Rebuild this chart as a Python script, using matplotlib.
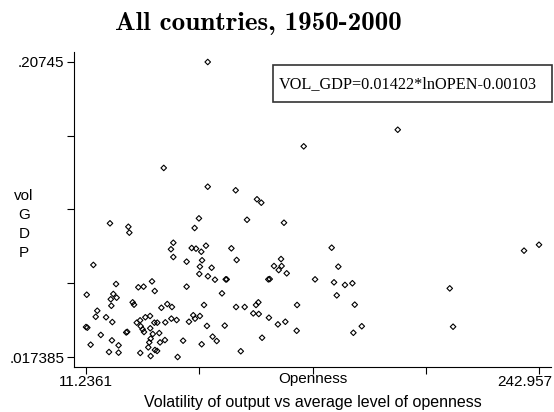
import matplotlib
matplotlib.use("Agg")
import matplotlib.pyplot as plt
from matplotlib.patches import Rectangle
from matplotlib.transforms import ScaledTranslation

# average openness per country (x) and volatility of GDP (y)
openness = [73.5, 122.6, 170.7, 51.0, 73.5, 87.8, 98.7, 100.9,
            23.5, 32.9, 33.4, 15.0, 11.6, 26.6, 25.2, 26.9, 23.9, 24.2,
            17.0, 16.2, 21.5, 24.7, 11.2361, 11.9, 18.8, 13.6, 24.5, 27.9,
            23.0, 27.9, 35.1, 35.8, 31.8, 32.3, 38.0, 40.7, 45.0, 46.4,
            38.9, 37.2, 39.2, 40.2, 40.9, 41.6, 44.0, 44.1, 46.2, 47.7,
            45.4, 44.3, 48.7, 43.6, 43.1, 46.5, 47.6, 44.3, 39.0, 49.1,
            51.6, 49.8, 52.8, 55.2, 51.8, 54.9, 57.6, 58.1, 60.9, 54.7,
            55.9, 55.9, 62.7, 62.7, 63.9, 66.1, 67.0, 69.5, 66.8, 69.0,
            65.3, 67.5, 70.2, 72.6, 70.6, 69.5, 69.2, 73.6, 75.5, 77.2,
            83.2, 82.7, 80.8, 71.6, 73.1, 70.4, 76.0, 78.1, 82.2, 85.6,
            88.3, 88.0, 92.4, 90.4, 93.6, 96.8, 98.2, 99.4, 99.6, 101.3,
            104.8, 105.2, 104.5, 107.4, 109.8, 111.3, 111.0, 113.9, 112.5,
            109.4, 113.2, 119.2, 119.0,
            136.9, 140.3, 128.4, 138.1, 143.7, 147.5, 139.5, 148.7, 152.3,
            148.0, 197.3, 199.0, 235.3, 242.957]
vol_gdp = [0.20745, 0.1531, 0.1638, 0.1392, 0.1271, 0.1248, 0.1190, 0.1168,
           0.1035, 0.1013, 0.0975, 0.0767, 0.0575, 0.0644, 0.0580, 0.0556, 0.0546, 0.0504,
           0.0472, 0.0433, 0.0430, 0.0399, 0.0367, 0.0363, 0.0316, 0.0253, 0.0281, 0.0249,
           0.0206, 0.0202, 0.0526, 0.0511, 0.0332, 0.0336, 0.0623, 0.0627, 0.0661, 0.0599,
           0.0410, 0.0395, 0.0372, 0.0352, 0.0335, 0.0430, 0.0438, 0.0359, 0.0395, 0.0395,
           0.0322, 0.0292, 0.0328, 0.0268, 0.0236, 0.0219, 0.0213, 0.0180, 0.0200, 0.0268,
           0.0283, 0.0491, 0.0515, 0.0496, 0.0397, 0.0421, 0.0412, 0.017385, 0.0279, 0.0868,
           0.0910, 0.0818, 0.0788, 0.0627, 0.0401, 0.0443, 0.0421, 0.0438, 0.1005, 0.1067,
           0.0876, 0.0872, 0.0852, 0.0891, 0.0797, 0.0756, 0.0709, 0.0694, 0.0749, 0.0672,
           0.0674, 0.0674, 0.0584, 0.0509, 0.0374, 0.0256, 0.0305, 0.0277, 0.0376, 0.0874,
           0.0799, 0.0496, 0.0496, 0.0211, 0.1058, 0.0455, 0.0509, 0.0526, 0.0451, 0.0298,
           0.0427, 0.0676, 0.0674, 0.0760, 0.0734, 0.0760, 0.0805, 0.0713, 0.1039,
           0.0384, 0.0401, 0.0509, 0.0343,
           0.0878, 0.0756, 0.0674, 0.0655, 0.0638, 0.0649, 0.0571, 0.0511, 0.0372,
           0.0330, 0.0616, 0.0369, 0.0859, 0.0897]

x_ticks = [11.2361, 69.1664, 127.0966, 185.0268, 242.957]
x_labels = ["11.2361", "", "", "", "242.957"]
y_ticks = [0.017385, 0.0649, 0.112417, 0.159933, 0.20745]
y_labels = [".017385", "", "", "", ".20745"]

equation = "VOL_GDP=0.01422*lnOPEN-0.00103"

fig = plt.figure(figsize=(5.54, 4.12), dpi=100)
ax = fig.add_axes([0.1336, 0.1092, 0.861, 0.7646])

ax.scatter(openness, vol_gdp, marker="D", s=8, facecolors="none",
           edgecolors="black", linewidths=0.8)

ax.set_xlim(5.1, 249.1)
ax.set_ylim(0.01094, 0.21389)
ax.set_xticks(x_ticks)
ax.set_xticklabels(x_labels, fontsize=11, family="Liberation Sans")
ax.set_yticks(y_ticks)
ax.set_yticklabels(y_labels, fontsize=11, family="Liberation Sans")
ax.tick_params(direction="out", length=5, width=0.8)
ax.tick_params(axis="x", pad=1)
ax.tick_params(axis="y", pad=2)
ax.spines["top"].set_visible(False)
ax.spines["right"].set_visible(False)

# last x label is pushed left so it stays inside the picture
last = ax.get_xticklabels()[-1]
last.set_transform(last.get_transform() + ScaledTranslation(-0.14, 0, fig.dpi_scale_trans))

# axis titles the stata way
fig.text(0.564, 0.08, "Openness", ha="center", va="center", fontsize=11, family="Liberation Sans")
fig.text(0.564, 0.022, "Volatility of output vs average level of openness",
         ha="center", va="center", fontsize=11.5, family="Liberation Sans")
fig.text(0.043, 0.456, "vol\nG\nD\nP", ha="center", va="center", fontsize=11,
         family="Liberation Sans", linespacing=1.45)

fig.text(0.4657, 0.944, "All countries, 1950-2000", ha="center", va="center",
         fontsize=19.5, family="cmb10")

# box with the regression line
fig.patches.append(Rectangle((0.4928, 0.7524), 0.5036, 0.0898, transform=fig.transFigure,
                             fill=False, edgecolor="#333333", linewidth=1.2))
fig.text(0.737, 0.797, equation, ha="center", va="center", fontsize=11.7, family="Liberation Serif")

fig.savefig("out.png", dpi=100)
